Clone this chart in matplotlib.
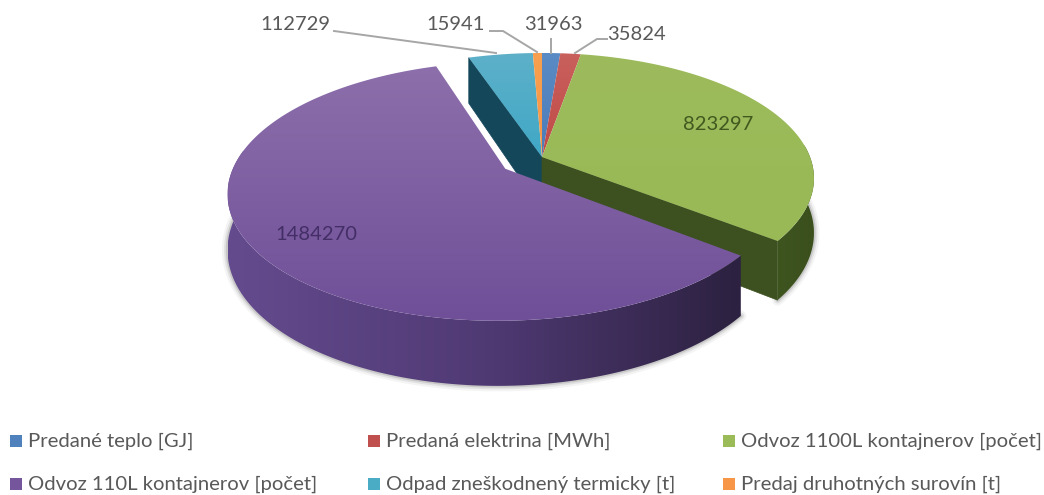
import numpy as np
import matplotlib
matplotlib.use('Agg')
import matplotlib.pyplot as plt
from matplotlib.colors import LinearSegmentedColormap
from matplotlib.patches import Polygon, Rectangle

plt.rcParams['font.family'] = ['Lato', 'DejaVu Sans']

# data, clockwise from 12 o'clock
categories = ['Predané teplo [GJ]', 'Predaná elektrina [MWh]', 'Odvoz 1100L kontajnerov [počet]',
              'Odvoz 110L kontajnerov [počet]', 'Odpad zneškodnený termicky [t]', 'Predaj druhotných surovín [t]']
values = [31963, 35824, 823297, 1484270, 112729, 15941]
colors = ['#4f81bd', '#c0504d', '#9bbb59', '#75559b', '#4bacc6', '#f79646']

# fake 3d camera
cx, cy = 542, 157
rx, ry = 268, 121.7
persp = 0.17
depth = 53
explode = 0.165  # only the purple slice

edges = np.concatenate([[0], np.cumsum(values)]) / np.sum(values) * 2 * np.pi


def project(x, y, low=False):
    d = 1 + persp * y
    sx = cx + rx * x / d
    sy = cy - ry * y / d
    if low:
        sy = sy + depth / d
    return sx, sy


def top_face(i, ex=0.0):
    t = np.linspace(edges[i], edges[i + 1], 200)
    mid = (edges[i] + edges[i + 1]) / 2
    ox, oy = ex * np.sin(mid), ex * np.cos(mid)
    xs = np.r_[ox, ox + np.sin(t)]
    ys = np.r_[oy, oy + np.cos(t)]
    return np.column_stack(project(xs, ys))


def gradient(poly, stops, z, horizontal=False):
    # gradient image clipped to the polygon
    cmap = LinearSegmentedColormap.from_list('g', stops)
    x0, y0 = poly.min(axis=0)
    x1, y1 = poly.max(axis=0)
    g = np.linspace(0, 1, 256)
    g = g.reshape(1, -1) if horizontal else g.reshape(-1, 1)
    im = ax.imshow(g, cmap=cmap, aspect='auto', extent=(x0, x1, y1, y0), zorder=z)
    p = Polygon(poly, closed=True, fc='none', ec='none', zorder=z)
    ax.add_patch(p)
    im.set_clip_path(p)


def outer_wall(t, ox, oy, stops, z):
    up = np.column_stack(project(ox + np.sin(t), oy + np.cos(t)))
    lo = np.column_stack(project(ox + np.sin(t), oy + np.cos(t), low=True))
    gradient(np.vstack([up, lo[::-1]]), stops, z, horizontal=True)


def shadow(t, ox, oy, z):
    sx, sy = project(ox + np.sin(t), oy + np.cos(t), low=True)
    for w, a in zip([8, 5, 2.5], [0.05, 0.09, 0.15]):
        ax.plot(sx, sy, color='#333333', lw=w, alpha=a, zorder=z, solid_capstyle='round')


def radial_wall(angle, color, z):
    xs = np.array([0, np.sin(angle)])
    ys = np.array([0, np.cos(angle)])
    up = np.column_stack(project(xs, ys))
    lo = np.column_stack(project(xs, ys, low=True))
    ax.add_patch(Polygon(np.vstack([up, lo[::-1]]), fc=color, ec=color, lw=0.5, zorder=z))


fig = plt.figure(figsize=(10.44, 4.95), dpi=100)
ax = fig.add_axes([0, 0, 1, 1])

# walls behind the top faces
radial_wall(edges[4], '#14475a', 2)
radial_wall(edges[3], '#3c5020', 2)
t_green = np.linspace(np.pi / 2 - 0.1, edges[3], 80)
shadow(t_green, 0, 0, 1)
outer_wall(t_green, 0, 0, ['#3f5520', '#3a4f1c'], 2)

# main pie top
gradient(top_face(0), ['#5b8bc4', '#4a7cb8'], 3)
gradient(top_face(1), ['#c9605c', '#c04a47'], 3)
gradient(top_face(2), ['#9dbb5c', '#98b955'], 3)
gradient(top_face(4), ['#5eb0c9', '#3fa8c6'], 3)
gradient(top_face(5), ['#f8a04f', '#f79646'], 3)

# exploded slice
mid = (edges[3] + edges[4]) / 2
ox, oy = explode * np.sin(mid), explode * np.cos(mid)
t_purple = np.linspace(edges[3], 3 * np.pi / 2 + 0.15, 240)
shadow(t_purple, ox, oy, 4)
outer_wall(t_purple, ox, oy, ['#644b8e', '#503a74', '#2c2140'], 5)
gradient(top_face(3, explode), ['#8d6fab', '#6f4f98'], 6)

# leaders, label anchors first then slice rim
leaders = [([334, 496], [31, 53]),
           ([490, 503, 537], [31, 31, 52]),
           ([551, 551], [39, 53]),
           ([607, 597, 575], [39, 39, 53])]
for lx, ly in leaders:
    ax.plot(lx, ly, color='#a6a6a6', lw=1.4, zorder=7)

label_x = [553, 637, 718, 316, 295, 456]
label_y = [25, 34, 125, 234, 24, 25]
label_c = ['#595959', '#595959', '#41591f', '#432e66', '#595959', '#595959']
for i, v in enumerate(values):
    ax.text(label_x[i], label_y[i], str(v), color=label_c[i], fontsize=14.5,
            ha='center', va='center', zorder=8)

# legend
leg_x = [10, 368, 723, 10, 368, 723]
leg_y = [441, 441, 441, 484, 484, 484]
for i, name in enumerate(categories):
    ax.add_patch(Rectangle((leg_x[i], leg_y[i] - 6), 12, 12, fc=colors[i], ec='none'))
    ax.text(leg_x[i] + 18, leg_y[i], name, color='#595959', fontsize=14.6, ha='left', va='center')

ax.set_xlim(0, 1044)
ax.set_ylim(495, 0)
ax.axis('off')
fig.savefig('out.png', dpi=100)
